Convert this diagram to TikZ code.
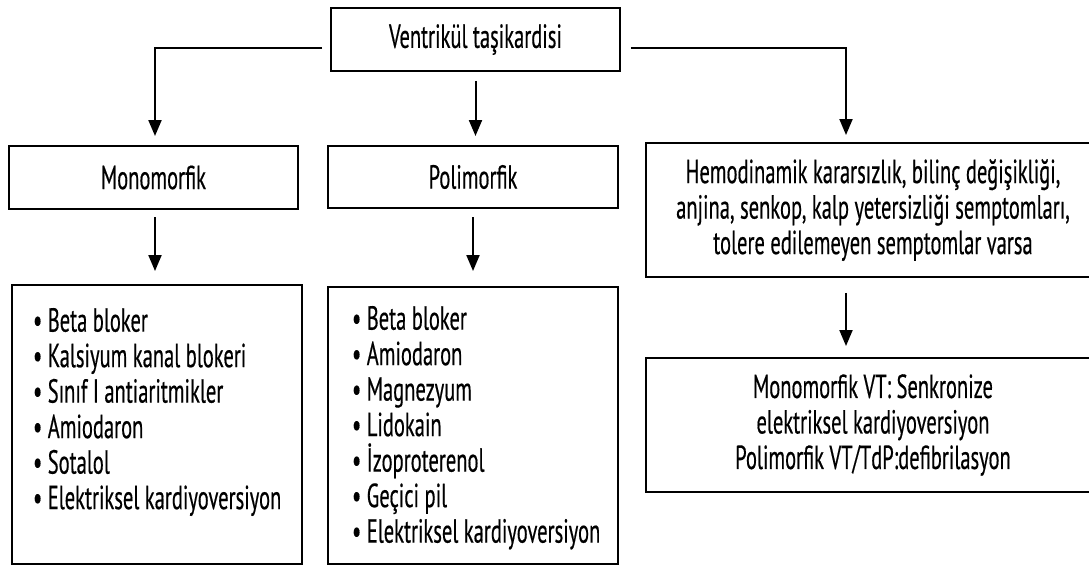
\documentclass[tikz,border=0pt]{standalone}
\usepackage{fontspec}
\setmainfont{PT Sans}[FakeStretch=0.615,FakeBold=0.4]
\usetikzlibrary{arrows.meta}

\newcommand{\vtfont}{\fontsize{19pt}{20.2pt}\selectfont}
\tikzset{
  box/.style={draw, line width=0.04cm, rectangle, inner sep=0pt, align=center, font=\vtfont},
  arr/.style={line width=0.04cm, -{Triangle[length=0.32cm,width=0.26cm]}},
}

\begin{document}
\begin{tikzpicture}[x=0.02cm,y=-0.02cm]
                \useasboundingbox (0,0) rectangle (1089,566);
                
                % Drawing box Ventrikul tasikardisi
                \node [box, minimum width=5.78cm, minimum height=1.26cm] (vt) at (475.5,39.5) {Ventrikül taşikardisi};%
                
                % Drawing boxes of the second row
                \node [box, minimum width=5.78cm, minimum height=1.26cm] (mono) at (153.5,177.5) {Monomorfik};%
                \node [box, minimum width=5.80cm, minimum height=1.24cm] (poli) at (473,177) {Polimorfik};%
                \node [box, minimum width=9.08cm, minimum height=2.68cm] (hemo) at (873,210)
                      {Hemodinamik kararsızlık, bilinç değişikliği,\\ anjina, senkop, kalp yetersizliği semptomları,\\ tolere edilemeyen semptomlar varsa};%
                
                % Drawing list of Monomorfik
                \node [box, minimum width=5.80cm, minimum height=5.58cm] (monolist) at (157,424.5)
                      {\begin{minipage}[c][5.5cm][t]{5.8cm}\raggedright\vspace{0.42cm}%
                       \hspace*{0.42cm}\textbullet\ Beta bloker\\
                       \hspace*{0.42cm}\textbullet\ Kalsiyum kanal blokeri\\
                       \hspace*{0.42cm}\textbullet\ Sınıf I antiaritmikler\\
                       \hspace*{0.42cm}\textbullet\ Amiodaron\\
                       \hspace*{0.42cm}\textbullet\ Sotalol\\
                       \hspace*{0.42cm}\textbullet\ Elektriksel kardiyoversiyon
                       \end{minipage}};%
                
                % Drawing list of Polimorfik
                \node [box, minimum width=5.80cm, minimum height=5.54cm] (polilist) at (473,425.5)
                      {\begin{minipage}[c][5.5cm][t]{5.8cm}\raggedright\vspace{0.36cm}%
                       \hspace*{0.48cm}\textbullet\ Beta bloker\\
                       \hspace*{0.48cm}\textbullet\ Amiodaron\\
                       \hspace*{0.48cm}\textbullet\ Magnezyum\\
                       \hspace*{0.48cm}\textbullet\ Lidokain\\
                       \hspace*{0.48cm}\textbullet\ İzoproterenol\\
                       \hspace*{0.48cm}\textbullet\ Geçici pil\\
                       \hspace*{0.48cm}\textbullet\ Elektriksel kardiyoversiyon
                       \end{minipage}};%
                
                % Drawing box of kardiyoversiyon
                \node [box, minimum width=9.08cm, minimum height=2.68cm] (kv) at (873,425)
                      {Monomorfik VT: Senkronize\\ elektriksel kardiyoversiyon\\ Polimorfik VT/TdP:defibrilasyon};%
                
                % Drawing arrows from Ventrikul tasikardisi
                \draw [arr, shorten <=0.16cm, shorten >=0.18cm] ([yshift=-0.17cm]vt.west) -| ([xshift=0.03cm]mono.north);%
                \draw [arr, shorten <=0.18cm, shorten >=0.18cm] (vt.south) -- (vt.south |- poli.north);%
                \draw [arr, shorten <=0.2cm, shorten >=0.14cm] ([yshift=-0.17cm]vt.east) -| ([xshift=-0.54cm]hemo.north);%
                
                % Drawing arrows to the lower boxes
                \draw [arr, shorten <=0.14cm, shorten >=0.26cm] ([xshift=0.03cm]mono.south) -- ([xshift=0.03cm]mono.south |- monolist.north);%
                \draw [arr, shorten <=0.16cm, shorten >=0.3cm] (poli.south) -- (poli.south |- polilist.north);%
                \draw [arr, shorten <=0.3cm, shorten >=0.22cm] ([xshift=-0.54cm]hemo.south) -- ([xshift=-0.54cm]kv.north);%
\end{tikzpicture}
\end{document}
